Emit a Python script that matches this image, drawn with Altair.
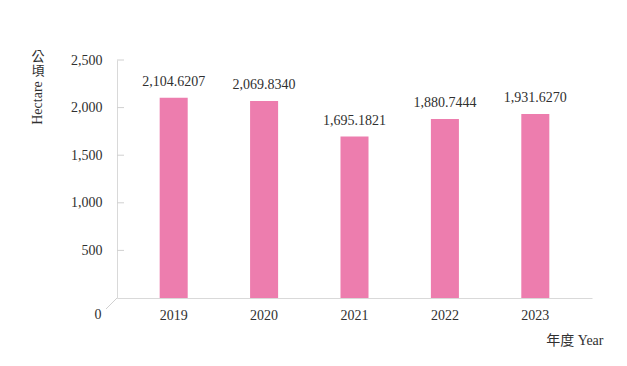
import altair as alt
import pandas as pd

years = ["2019", "2020", "2021", "2022", "2023"]
values = [2104.6207, 2069.8340, 1695.1821, 1880.7444, 1931.6270]
labels = ["2,104.6207", "2,069.8340", "1,695.1821", "1,880.7444", "1,931.6270"]
y_ticks = [500, 1000, 1500, 2000, 2500]

SERIF = "Liberation Serif, Times New Roman, serif"
MIXED = "Liberation Serif, Noto Sans CJK TC, serif"
TXT = "#303030"

df = pd.DataFrame({"year": years, "value": values, "label": labels})
ticks_df = pd.DataFrame({"t": y_ticks})

x_enc = alt.X("year:N", sort=years,
              scale=alt.Scale(paddingInner=0.69, paddingOuter=0.472),
              axis=alt.Axis(labelAngle=0, ticks=False, domainColor="#d9d9d9",
                            labelPadding=10, labelFont=SERIF, labelFontSize=14,
                            labelColor=TXT, title="年度 Year", titleFont=MIXED,
                            titleFontSize=14, titleFontWeight="normal", titleColor=TXT,
                            titleX=486, titleY=42, titleAlign="right",
                            titleBaseline="middle", titleAnchor="start"))
y_scale = alt.Scale(domain=[0, 2500], nice=False)
y_enc = alt.Y("value:Q", scale=y_scale,
              axis=alt.Axis(values=y_ticks, format=",.0f", ticks=False, grid=False,
                            domainColor="#d9d9d9", labelPadding=15, labelFont=SERIF,
                            labelFontSize=14, labelColor=TXT, title=None))

bars = alt.Chart(df).mark_bar(color="#ED7DAE").encode(x=x_enc, y=y_enc)
text = alt.Chart(df).mark_text(font=SERIF, fontSize=14, color=TXT,
                               baseline="alphabetic", dy=-12).encode(
    x=alt.X("year:N", sort=years), y=alt.Y("value:Q", scale=y_scale), text="label:N")

tick_marks = alt.Chart(ticks_df).mark_rule(color="#d0d0d0").encode(
    y=alt.Y("t:Q", scale=y_scale), x=alt.value(0), x2=alt.value(7))

diag = alt.Chart(pd.DataFrame({"a": [0]})).mark_rule(color="#d0d0d0").encode(
    x=alt.value(0), x2=alt.value(-11), y=alt.value(238), y2=alt.value(249))

zero = alt.Chart(pd.DataFrame({"s": ["0"]})).mark_text(
    font=SERIF, fontSize=14, color=TXT, align="center", baseline="middle").encode(
    x=alt.value(-19), y=alt.value(255), text="s:N")

def ytitle(s, y, angle=0):
    return alt.Chart(pd.DataFrame({"s": [s]})).mark_text(
        font=MIXED, fontSize=14 if angle else 13, color=TXT, align="center",
        baseline="middle", angle=angle).encode(
        x=alt.value(-79), y=alt.value(y), text="s:N")

chart = alt.layer(bars, text, tick_marks, diag, zero,
                  ytitle("公", -3), ytitle("頃", 11), ytitle("Hectare", 43, 270)
).properties(
    width=475, height=238,
    autosize=alt.AutoSizeParams(type="none"),
    padding={"left": 109, "top": 52, "right": 25, "bottom": 50},
    background="white"
).configure_view(stroke=None)

chart.save("out.html", embed_options={"renderer": "svg", "actions": False})
